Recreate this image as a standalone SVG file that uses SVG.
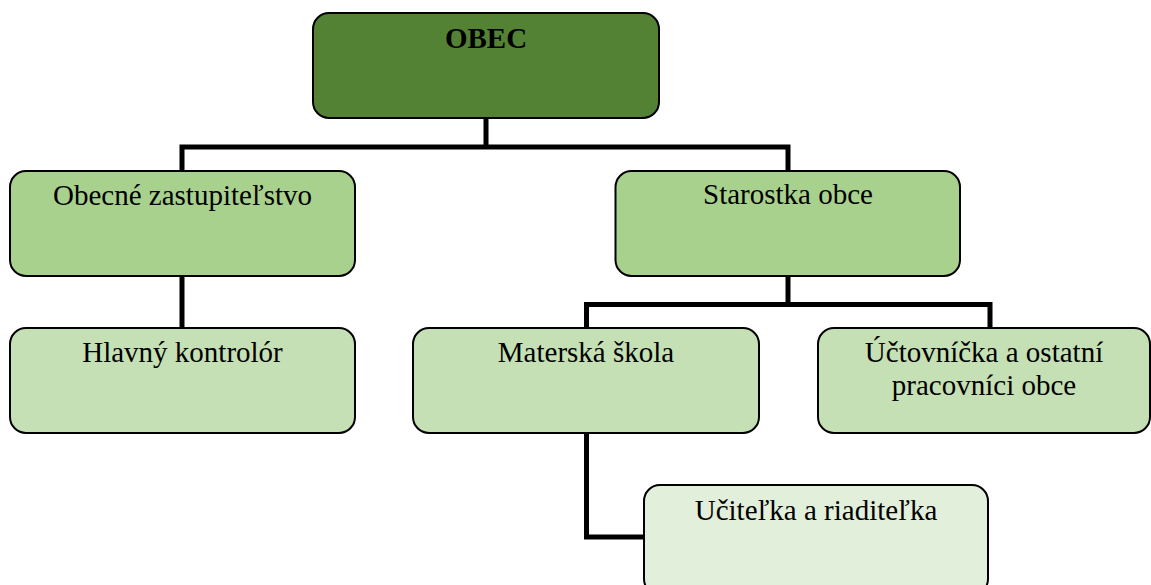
<svg xmlns="http://www.w3.org/2000/svg" width="1151" height="585" viewBox="0 0 1151 585">
<style>
.box{stroke:#000;stroke-width:2}
.l1{fill:#a9d18e}
.l2{fill:#c5e0b4}
.l3{fill:#e2efda}
.top{fill:#548235}
text{font-family:"Liberation Serif","Times New Roman",serif;font-size:29px;fill:#000;text-anchor:middle}
.b{font-weight:bold}
.conn{fill:none;stroke:#000;stroke-width:5;stroke-linejoin:miter;stroke-linecap:butt}
</style>
<rect width="1151" height="585" fill="#fff"/>
<g id="connectors">
<path class="conn" d="M486,118 V147 M182,171 V147 H788 V171"/>
<path class="conn" d="M182,276 V328"/>
<path class="conn" d="M788,276 V304.5 M586.5,328 V304.5 H990 V328"/>
<path class="conn" d="M586.5,433 V537 H644"/>
</g>
<g id="obec">
<rect class="box top" x="313" y="13" width="346" height="105" rx="16"/>
<text class="b" x="486" y="48">OBEC</text>
</g>
<g id="zastupitelstvo">
<rect class="box l1" x="10" y="171" width="345" height="105" rx="16"/>
<text x="182.5" y="205">Obecné zastupiteľstvo</text>
</g>
<g id="starostka">
<rect class="box l1" x="615.5" y="171" width="344.5" height="105" rx="16"/>
<text x="788" y="204">Starostka obce</text>
</g>
<g id="kontrolor">
<rect class="box l2" x="10" y="328" width="345" height="105" rx="16"/>
<text x="182.5" y="362">Hlavný kontrolór</text>
</g>
<g id="skola">
<rect class="box l2" x="413" y="328" width="346" height="105" rx="16"/>
<text x="586" y="362">Materská škola</text>
</g>
<g id="uctovnicka">
<rect class="box l2" x="818" y="328" width="332" height="105" rx="16"/>
<text x="984" y="362">Účtovníčka a ostatní</text>
<text x="984" y="395">pracovníci obce</text>
</g>
<g id="ucitelka">
<rect class="box l3" x="644" y="485" width="344" height="110" rx="16"/>
<text x="816" y="520">Učiteľka a riaditeľka</text>
</g>
</svg>
